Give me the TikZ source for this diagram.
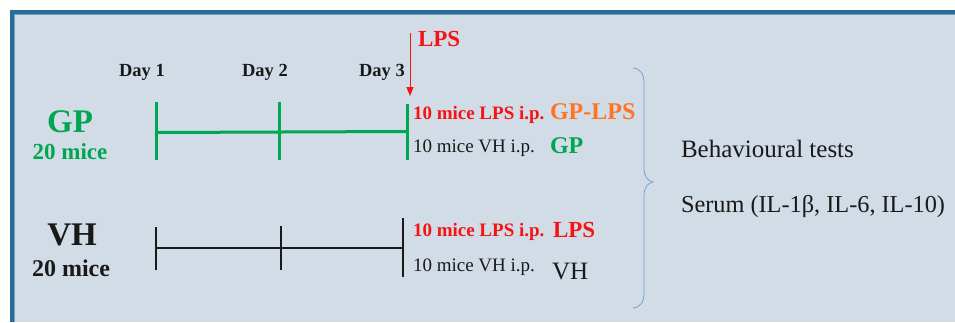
\documentclass[tikz,border=0pt]{standalone}
\usepackage{fontspec}
\setmainfont{Liberation Serif}
\usetikzlibrary{arrows.meta}
\definecolor{bgc}{RGB}{209,220,230}
\definecolor{borderc}{RGB}{44,108,148}
\definecolor{borderl}{RGB}{110,160,200}
\definecolor{gpgreen}{RGB}{0,166,81}
\definecolor{lpsred}{RGB}{245,20,20}
\definecolor{gporange}{RGB}{255,115,35}
\definecolor{txtdark}{RGB}{25,25,25}
\definecolor{bracec}{RGB}{120,160,205}
\tikzset{
  lbl/.style={inner sep=0pt, outer sep=0pt},
  fs/.style={font=\fontsize{#1}{#1}\selectfont},
  gline/.style={gpgreen, line width=3pt},
  kline/.style={txtdark, line width=2.8pt},
}
\begin{document}
\begin{tikzpicture}[x=1pt,y=-1pt]
\useasboundingbox (0,0) rectangle (955,322);
% frame
\fill[bgc] (12,12) rectangle (955,322);
\draw[borderl, line width=1.5pt] (14.5,322) -- (14.5,14.5) -- (955,14.5);
\draw[borderc, line width=3.5pt] (12,322) -- (12,12) -- (955,12);

% day labels
\node[lbl, fs=18.5, anchor=base, txtdark] (d1) at (142,76) {\bfseries Day 1};
\node[lbl, fs=18.5, anchor=base, txtdark] (d2) at (265,76) {\bfseries Day 2};
\node[lbl, fs=18.5, anchor=base, txtdark] (d3) at (382,76) {\bfseries Day 3};

% LPS arrow
\node[lbl, fs=23, anchor=base west, lpsred] (lps) at (418,46.5) {\bfseries LPS};
\coordinate (atop) at (410,33);
\coordinate (atip) at (410,96);
\draw[lpsred, line width=0.9pt, -{Triangle[length=9pt,width=7pt]}] (atop) -- (atip);

% GP group
\node[lbl, fs=33, anchor=base, gpgreen] (gp) at (70,132) {\bfseries GP};
\node[lbl, fs=23, anchor=base, gpgreen] (gpn) at (70,159) {\bfseries 20 mice};
\coordinate (g1t) at (156,102); \coordinate (g1b) at (156,160);
\coordinate (g2t) at (279,102); \coordinate (g2b) at (279,160);
\coordinate (g3t) at (407,104); \coordinate (g3b) at (407,160);
\coordinate (g1m) at (156,132.5); \coordinate (g3m) at (407,131.5);
\draw[gline] (g1t) -- (g1b);
\draw[gline] (g2t) -- (g2b);
\draw[gline] (g3t) -- (g3b);
\draw[gline] (g1m) -- (g3m);

% VH group
\node[lbl, fs=33, anchor=base, txtdark] (vh) at (72,245) {\bfseries VH};
\node[lbl, fs=24, anchor=base, txtdark] (vhn) at (71,276) {\bfseries 20 mice};
\coordinate (k1t) at (156,227); \coordinate (k1b) at (156,270);
\coordinate (k2t) at (281,226); \coordinate (k2b) at (281,270);
\coordinate (k3t) at (403,218); \coordinate (k3b) at (403,277);
\coordinate (k1m) at (156,248); \coordinate (k3m) at (403,248);
\draw[kline] (k1t) -- (k1b);
\draw[kline] (k2t) -- (k2b);
\draw[kline] (k3t) -- (k3b);
\draw[kline] (k1m) -- (k3m);

% right texts GP
\node[lbl, fs=19, anchor=base west, lpsred] (gl) at (413,119) {\bfseries 10 mice LPS i.p.};
\node[lbl, fs=24, anchor=base west, gporange] (glt) at (550,119.5) {\bfseries GP-LPS};
\node[lbl, fs=19, anchor=base west, txtdark] (gv) at (413,152) {10 mice VH i.p.};
\node[lbl, fs=24, anchor=base west, gpgreen] (gvt) at (550,153) {\bfseries GP};

% right texts VH
\node[lbl, fs=19, anchor=base west, lpsred] (vl) at (413,236) {\bfseries 10 mice LPS i.p.};
\node[lbl, fs=23, anchor=base west, lpsred] (vlt) at (553,237) {\bfseries LPS};
\node[lbl, fs=19, anchor=base west, txtdark] (vv) at (413,271) {10 mice VH i.p.};
\node[lbl, fs=25, anchor=base west, txtdark] (vvt) at (552,279) {VH};

% brace
\draw[bracec, line width=0.8pt] (633,68) .. controls (641,69) and (644,74) .. (644,84)
  -- (644,168) .. controls (644,177) and (648,181) .. (653,182)
  .. controls (648,183) and (644,187) .. (644,196)
  -- (644,292) .. controls (644,302) and (641,307) .. (633,308);

% outcomes
\node[lbl, fs=25, anchor=base west, txtdark] (bt) at (681,157) {Behavioural tests};
\node[lbl, fs=24.3, anchor=base west, txtdark] (se) at (681,212) {Serum (IL-1β, IL-6, IL-10)};
\end{tikzpicture}
\end{document}
